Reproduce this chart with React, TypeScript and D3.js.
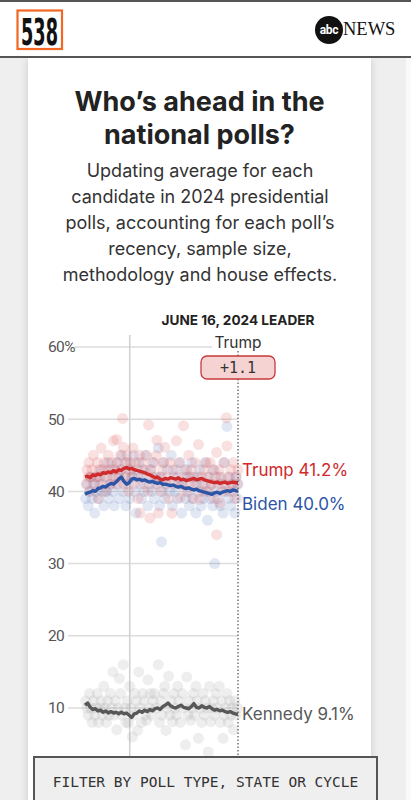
import React from "react";
import * as d3 from "d3";

const START = new Date(2023, 9, 24);
const END = new Date(2024, 5, 16);
const YEAR_MARK = new Date(2024, 0, 1);

const yTicks = [10, 20, 30, 40, 50, 60];
const candidates = ["Trump", "Biden", "Kennedy"];
const finalValues = [41.2, 40.0, 9.1];
const leaderName = "Trump";
const leaderMargin = "+1.1";

// trend lines, one value every 4 days from START
const trumpTrend = [42.0, 42.1, 41.9, 42.3, 42.2, 42.4, 42.3, 42.6, 42.5, 42.7, 42.6, 42.9, 42.7, 43.0, 42.9, 43.2, 43.3, 43.1, 43.2, 43.0, 42.9, 42.8, 42.7, 42.6, 42.4, 42.3, 42.1, 41.9, 42.0, 41.7, 41.6, 41.8, 41.7, 41.9, 41.8, 41.7, 41.9, 41.6, 41.7, 41.5, 41.6, 41.7, 41.8, 41.6, 41.7, 41.8, 41.6, 41.5, 41.4, 41.3, 41.2, 41.3, 41.1, 41.2, 41.3, 41.1, 41.2, 41.3, 41.2, 41.2];
const bidenTrend = [39.6, 39.8, 39.9, 40.1, 40.0, 40.4, 40.5, 40.7, 40.6, 40.9, 41.1, 41.0, 41.3, 41.7, 42.0, 41.4, 41.0, 41.2, 41.7, 41.8, 41.6, 41.7, 41.5, 41.6, 41.4, 41.3, 41.4, 41.2, 41.1, 41.2, 41.0, 41.0, 40.9, 40.8, 40.9, 40.7, 40.6, 40.7, 40.5, 40.4, 40.5, 40.3, 40.2, 40.3, 40.1, 40.0, 39.9, 39.8, 39.7, 39.6, 39.8, 39.9, 39.7, 39.9, 40.0, 40.1, 40.0, 40.2, 40.1, 40.0];
const kennedyTrend = [10.4, 10.7, 10.1, 9.8, 9.9, 9.6, 9.7, 9.4, 9.6, 9.3, 9.5, 9.3, 9.4, 9.2, 9.4, 9.2, 9.3, 9.0, 8.7, 9.2, 9.3, 9.6, 9.4, 9.7, 9.5, 9.8, 9.6, 9.9, 10.0, 9.8, 10.2, 10.4, 10.7, 10.3, 10.1, 10.0, 10.2, 10.4, 10.1, 10.0, 9.9, 10.2, 10.6, 10.1, 10.0, 10.3, 10.1, 10.0, 10.2, 9.9, 9.7, 9.8, 9.6, 9.7, 9.5, 9.4, 9.5, 9.3, 9.2, 9.1];

// individual polls: [days after START, value]
const trumpPolls = [[2,41],[3,43],[5,42],[6,44],[8,40],[10,42],[11,43],[13,45],[15,41],[17,42],[19,44],[20,39],[22,43],[23,42],[25,46],[27,41],[29,43],[30,44],[32,40],[34,42],[36,45],[37,43],[39,41],[41,44],[43,42],[44,47],[46,43],[48,41],[49,47.2],[50,44],[52,42],[54,45],[56,43],[58,50.1],[59,46.1],[60,41],[62,44],[63,42],[65,45],[67,40],[68,43],[70,44],[72,42],[74,46],[76,41],[78,44],[80,43],[82,39],[84,45],[85,37],[87,42],[89,44],[91,41],[93,43],[95,45],[97,40],[98,49.2],[100,36.3],[102,43],[104,42],[106,44],[108,41],[110,45],[111,47.1],[113,37],[115,42],[117,40],[119,43],[121,44],[123,46.1],[125,41],[127,42],[129,39],[131,44],[134,37],[136,43],[138,41],[141,47],[143,42],[145,44],[147,39.1],[149,41],[152,49.1],[154,43],[156,40],[158,42],[160,45],[162,41],[164,43],[166,39],[168,42],[170,44],[172,41],[175,46.5],[177,38.9],[179,42],[181,40],[183,43],[185,41],[187,44],[189,42],[191,40],[193,44],[195,41],[197,43],[199,39],[201,42],[203,45.4],[203,34],[205,41],[207,43],[208,38.4],[210,42],[212,40],[214,44],[216,41],[218,50.2],[219,46.3],[221,42],[223,40],[225,43],[227,41],[229,44],[231,39],[233,42],[235,41],[236,43]];
const bidenPolls = [[1,39],[3,41],[5,38],[7,40],[9,42],[11,39],[13,41],[15,37],[17,40],[19,42],[21,39],[23,41],[25,43],[27,40],[29,38],[31,42],[33,40],[35,44],[37,39],[39,41],[41,43],[43,40],[45,38],[47,42],[49,44],[51,41],[53,39],[55,43],[57,45],[59,40],[61,42],[63,38],[65,44],[67,41],[69,39],[71,43],[73,42],[75,45],[77,40],[79,37],[81,42],[83,44],[85,41],[87,39],[89,43],[91,40],[93,45],[95,42],[97,38],[99,41],[101,43],[103,40],[105,44],[107,39],[109,42],[111,41],[113,46],[115,38],[117,42],[118,33],[119,40],[121,44],[123,39],[125,41],[127,43],[131,40],[133,45],[135,38],[137,42],[139,40],[141,43],[143,39],[145,41],[147,44],[149,37],[151,41],[153,42],[155,39],[157,43],[159,40],[161,38],[163,42],[165,44],[167,39],[169,41],[171,37],[173,42],[175,40],[177,43],[179,38],[181,41],[183,39],[185,44],[187,40],[189,36],[191,42],[193,39],[195,41],[197,38],[199,43],[200,30],[201,40],[205,39],[207,42],[209,38],[211,41],[213,37],[215,44],[217,40],[219,49],[221,39],[223,42],[225,38],[227,41],[229,40],[231,37],[233,42],[235,39],[236,41]];
const kennedyPolls = [[1,11],[3,10],[5,9],[7,12],[9,10],[11,8],[13,11],[15,9],[17,10],[19,12],[21,8],[23,10],[25,11],[27,9],[29,13],[31,10],[33,8],[35,11],[37,9],[39,12],[41,10],[43,15],[45,9],[47,11],[49,7],[51,10],[53,14.1],[55,12],[57,9],[59,16],[61,10],[63,8],[65,11],[67,7.9],[69,13],[71,10],[73,6],[75,9],[77,12],[79,11],[81,6.9],[83,15],[85,10],[87,8],[89,12],[91,11],[93,9],[95,8.3],[97,13.9],[99,10],[101,12],[103,9],[105,11],[107,12],[110,10],[113,16],[115,8],[117,11],[119,9],[121,12],[123,13],[125,6.9],[127,10],[129,14.4],[131,9],[133,11],[135,8.1],[137,12],[139,10],[141,9],[143,13],[145,11],[147,8],[150,12],[152,10],[155,4.9],[157,14.3],[159,9],[161,11],[163,8.3],[165,10],[167,12],[169,9],[171,13],[173,11],[175,5.8],[178,10],[180,8],[182,12],[184,9],[186,11],[188,10],[190,3.9],[192,13],[194,8.1],[196,10],[198,11],[200,9],[202,12],[204,10],[207,13],[209,8],[211,11],[213,5.8],[215,9],[217,10],[219,12],[221,8],[223,11],[225,9],[227,10],[229,7],[231,11],[233,9],[235,10]];

const subtitleLines = [
  "Updating average for each",
  "candidate in 2024 presidential",
  "polls, accounting for each poll\u2019s",
  "recency, sample size,",
  "methodology and house effects.",
];

const COLORS = { Trump: "#cf2a2c", Biden: "#2c55a6", Kennedy: "#585858" };
const DOT = { Trump: "#e05a5a", Biden: "#5a78bd", Kennedy: "#9a9a9a" };

export default function App() {
  const x = d3.scaleTime().domain([START, END]).range([85, 238]);
  const y = d3.scaleLinear().domain([10, 60]).range([708, 347]);
  const day = (d: number) => d3.timeDay.offset(START, d);
  const line = d3
    .line<number>()
    .x((_, i) => x(day(i * 4)))
    .y((v) => y(v));
  const trends = [trumpTrend, bidenTrend, kennedyTrend];
  const polls = [trumpPolls, bidenPolls, kennedyPolls];
  const xEnd = x(END);

  // label dodge
  const ly = finalValues.map((v) => y(v));
  const sorted = ly.map((v, i) => ({ v, i })).sort((a, b) => a.v - b.v);
  const gap = 34;
  const labelY = [...ly];
  for (let k = 0; k < sorted.length - 1; k++) {
    const a = sorted[k], b = sorted[k + 1];
    if (labelY[b.i] - labelY[a.i] < gap) {
      const mid = (labelY[a.i] + labelY[b.i]) / 2;
      labelY[a.i] = mid - gap / 2;
      labelY[b.i] = mid + gap / 2;
    }
  }

  const sans = "Inter, 'Noto Sans', sans-serif";

  return (
    <div style={{ position: "absolute", left: 0, top: 0 }}>
      <svg width={411} height={800} style={{ display: "block" }}>
        <defs>
          <filter id="sh" x="-10%" y="-10%" width="120%" height="120%">
            <feGaussianBlur stdDeviation="3" />
          </filter>
        </defs>
        <rect x={0} y={0} width={411} height={800} fill="#efefef" />
        <rect x={406} y={58} width={5} height={742} fill="#fafafa" />
        <rect x={26} y={60} width={347} height={760} fill="#d6d6d6" filter="url(#sh)" />
        <rect x={28} y={58} width={343} height={742} fill="#fff" />
        {/* header */}
        <rect x={0} y={0} width={411} height={57} fill="#fff" />
        <line x1={0} x2={411} y1={1} y2={1} stroke="#555" strokeWidth={2} />
        <line x1={0} x2={411} y1={57} y2={57} stroke="#555" strokeWidth={2} />
        <rect x={17.5} y={10.5} width={44.5} height={38.5} fill="#fff" stroke="#f26722" strokeWidth={2.2} />
        <text x={21} y={45} fontFamily="'DejaVu Sans Condensed', 'DejaVu Sans', sans-serif" fontWeight={700} fontSize={38} textLength={37} lengthAdjust="spacingAndGlyphs" fill="#111">538</text>
        <circle cx={329} cy={30} r={14} fill="#111" />
        <text x={329} y={34} textAnchor="middle" fontFamily="Roboto, sans-serif" fontWeight={700} fontSize={12} letterSpacing={-0.3} fill="#fff">abc</text>
        <text x={343} y={35} fontFamily="'Liberation Serif', serif" fontSize={18.5} fill="#111">NEWS</text>

        {/* title */}
        <text x={199.5} y={111} textAnchor="middle" fontFamily={sans} fontWeight={700} fontSize={27} fill="#222">Who’s ahead in the</text>
        <text x={199.5} y={144} textAnchor="middle" fontFamily={sans} fontWeight={700} fontSize={27} fill="#222">national polls?</text>
        {subtitleLines.map((t, i) => (
          <text key={i} x={200} y={177 + i * 26} textAnchor="middle" fontFamily={sans} fontSize={18} fill="#333">{t}</text>
        ))}

        {/* grid */}
        {yTicks.map((t) => (
          <g key={t}>
            <line x1={t === 60 ? 75 : 68} x2={t === 60 ? 212 : xEnd} y1={y(t)} y2={y(t)} stroke="#dcdcdc" strokeWidth={1.5} />
            <text x={48} y={y(t)} dy="0.35em" fontFamily="Roboto, sans-serif" fontSize={15.5} fill="#555" letterSpacing={-0.6}>{t === 60 ? "60%" : t}</text>
          </g>
        ))}
        <line x1={x(YEAR_MARK)} x2={x(YEAR_MARK)} y1={335} y2={800} stroke="#cfcfcf" strokeWidth={1.5} />

        {/* dots */}
        {[2, 1, 0].map((ci) => (
          <g key={ci}>
            {polls[ci].map((p, i) => (
              <circle key={i} cx={x(day(p[0]))} cy={y(p[1])} r={5.5} fill={DOT[candidates[ci]]} fillOpacity={ci === 2 ? 0.17 : 0.18} />
            ))}
          </g>
        ))}

        {/* trend lines */}
        {trends.map((tr, ci) => (
          <path key={ci} d={line(tr) || ""} fill="none" stroke={COLORS[candidates[ci]]} strokeWidth={3.4} strokeLinejoin="round" />
        ))}

        {/* end marker */}
        <line x1={xEnd} x2={xEnd} y1={351} y2={800} stroke="#555" strokeWidth={1.2} strokeDasharray="1.5,2" />
        <text x={238} y={325} textAnchor="middle" fontFamily={sans} fontWeight={700} fontSize={13.6} fill="#222">JUNE 16, 2024 LEADER</text>
        <text x={xEnd} y={348} textAnchor="middle" fontFamily={sans} fontSize={15.5} fill="#333">{leaderName}</text>
        <rect x={xEnd - 37} y={356} width={74} height={23} rx={6} fill="#f6d3d3" stroke="#c8393b" strokeWidth={1.3} />
        <text x={xEnd} y={373} textAnchor="middle" fontFamily="'DejaVu Sans Mono', monospace" fontSize={15} fill="#333">{leaderMargin}</text>

        {/* labels */}
        {candidates.map((c, i) => (
          <text key={c} x={xEnd + 4} y={labelY[i]} dy="0.35em" fontFamily={sans} fontSize={17} fill={COLORS[c]}>
            {c} {finalValues[i].toFixed(1)}%
          </text>
        ))}

        {/* filter button */}
        <rect x={34} y={757} width={343} height={70} fill="#efefef" stroke="#555" strokeWidth={2} />
        <text x={205.5} y={787} textAnchor="middle" fontFamily="'DejaVu Sans Mono', monospace" fontSize={14.5} fill="#333">FILTER BY POLL TYPE, STATE OR CYCLE</text>
      </svg>
    </div>
  );
}
